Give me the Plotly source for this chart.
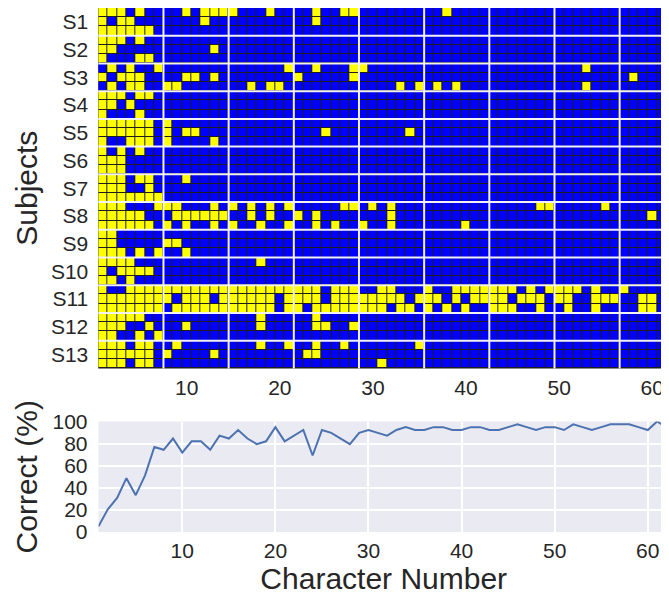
import plotly.graph_objects as go

# ---------------- data ----------------
subjects = ["S1", "S2", "S3", "S4", "S5", "S6", "S7", "S8", "S9", "S10", "S11", "S12", "S13"]
n_chars = 62
char_numbers = list(range(1, n_chars + 1))
x_tick_values = [10, 20, 30, 40, 50, 60]
pct_tick_values = [0, 20, 40, 60, 80, 100]

# character numbers answered wrongly (yellow), three sessions per subject
S1_errors = [[1, 2, 3, 5, 10, 12, 13, 14, 15, 19, 24, 27, 28, 38],
             [1, 3, 4, 12, 24],
             [1, 2, 3, 4, 5, 6]]
S2_errors = [[1, 2, 3, 5], [1, 2, 13], [1, 5, 6]]
S3_errors = [[2, 4, 7, 21, 24, 28, 29, 53],
             [1, 3, 4, 5, 10, 11, 13, 22, 28, 58],
             [2, 4, 5, 8, 9, 17, 19, 20, 33, 35, 37, 39, 53]]
S4_errors = [[1, 2, 3, 5, 6], [1, 2, 4], [1, 5]]
S5_errors = [[1, 2, 3, 4, 5, 6, 8],
             [1, 2, 3, 4, 5, 6, 8, 10, 11, 25, 34],
             [1, 4, 5, 6, 8, 13]]
S6_errors = [[1, 3, 5], [1, 2, 3], [1, 2, 3]]
S7_errors = [[1, 2, 3, 5, 6, 10], [1, 2, 3, 6], [1, 2, 3, 4, 5, 6, 7]]
S8_errors = [[1, 2, 3, 7, 8, 9, 13, 15, 17, 19, 21, 27, 28, 30, 32, 48, 49, 55],
             [1, 2, 3, 4, 5, 9, 10, 11, 12, 13, 14, 17, 19, 22, 24, 32, 60],
             [1, 2, 3, 4, 5, 6, 8, 10, 13, 15, 18, 21, 24, 26, 29, 32, 40]]
S9_errors = [[1, 2], [1, 2, 8, 9], [1, 2, 3, 5, 7, 10]]
S10_errors = [[1, 2, 3, 4, 18], [1, 3, 4, 5, 6], [1, 2, 4]]
S11_errors = [[1, 4, 5, 6, 7, 8, 9, 10, 11, 12, 13, 14, 15, 16, 17, 18, 19, 20, 21, 22, 23, 24,
               26, 27, 28, 31, 32, 36, 39, 40, 41, 42, 43, 44, 45, 47, 49, 50, 51, 52, 54, 57],
              [1, 2, 3, 4, 5, 6, 7, 8, 10, 11, 12, 14, 15, 16, 17, 18, 19, 21, 22, 23, 24, 26,
               27, 28, 29, 30, 31, 32, 33, 35, 36, 37, 39, 41, 42, 43, 44, 46, 47, 48, 50, 51,
               54, 55, 56, 59, 60, 62],
              [1, 2, 3, 4, 5, 6, 7, 9, 10, 11, 12, 13, 14, 15, 16, 17, 18, 19, 21, 22, 24, 25,
               26, 27, 28, 29, 30, 31, 33, 34, 36, 38, 40, 43, 44, 45, 48, 51, 54, 59, 60, 62]]
S12_errors = [[1, 2, 3, 4, 5, 18, 24], [1, 2, 3, 6, 10, 18, 24, 25, 28], [1, 2, 5, 7]]
S13_errors = [[1, 2, 3, 5, 6, 9, 18, 21, 24, 27, 35],
              [1, 2, 3, 4, 5, 6, 8, 13, 23, 24],
              [1, 2, 3, 5, 6, 31]]

percent_correct = [5.1, 20.5, 30.8, 48.7, 33.3, 51.3, 76.9, 74.4, 84.6, 71.8,
                   82.1, 82.1, 74.4, 87.2, 84.6, 92.3, 84.6, 79.5, 82.1, 94.9,
                   82.1, 87.2, 92.3, 69.2, 92.3, 89.7, 84.6, 79.5, 89.7, 92.3,
                   89.7, 87.2, 92.3, 94.9, 92.3, 92.3, 94.9, 94.9, 92.3, 92.3,
                   94.9, 94.9, 92.3, 92.3, 94.9, 97.4, 94.9, 92.3, 94.9, 94.9,
                   92.3, 97.4, 94.9, 92.3, 94.9, 97.4, 97.4, 97.4, 94.9, 92.3,
                   100.0, 94.9]

all_subject_errors = [S1_errors, S2_errors, S3_errors, S4_errors, S5_errors, S6_errors,
                      S7_errors, S8_errors, S9_errors, S10_errors, S11_errors,
                      S12_errors, S13_errors]

# ---------------- build matrix ----------------
z = []
for subj in all_subject_errors:
    for session in subj:
        z.append([1 if c in session else 0 for c in char_numbers])
n_rows = len(z)
sessions = len(S1_errors)
row_index = list(range(1, n_rows + 1))

BLUE = "#0000ff"
YELLOW = "#ffff00"
TEXT = "#262626"
FONT = "Liberation Sans, Arial, sans-serif"
TICK = 21
TITLE = 30

fig = go.Figure()
fig.add_trace(go.Heatmap(
    z=z, x=char_numbers, y=row_index,
    colorscale=[[0, BLUE], [1, YELLOW]], zmin=0, zmax=1,
    showscale=False, xgap=1, ygap=1, hoverinfo="skip",
    xaxis="x", yaxis="y"))

fig.add_trace(go.Scatter(
    x=char_numbers, y=percent_correct, mode="lines",
    line=dict(color="#4C72B0", width=2), xaxis="x2", yaxis="y2",
    hoverinfo="skip", showlegend=False))

# dark cell-border background for the heatmap
shapes = [dict(type="rect", xref="x domain", yref="y domain", x0=0, x1=1, y0=0, y1=1,
               fillcolor="#1e1e1e", line=dict(width=0), layer="below")]
# white separators: every 7 characters and between subjects
for k in range(7, n_chars, 7):
    shapes.append(dict(type="line", xref="x", yref="y domain", x0=k + 0.5, x1=k + 0.5,
                       y0=0, y1=1, line=dict(color="#f2f2f2", width=2), layer="above"))
for k in range(sessions, n_rows, sessions):
    shapes.append(dict(type="line", xref="x domain", yref="y", x0=0, x1=1,
                       y0=k + 0.5, y1=k + 0.5, line=dict(color="#f2f2f2", width=2), layer="above"))

subject_centers = [i * sessions + (sessions + 1) / 2 for i in range(len(subjects))]

# the page body adds an 8px margin, so the figure is 8px smaller than the window
PAGE_OFF = 8
W, H = 669 - PAGE_OFF, 597 - PAGE_OFF


def px_x(v):
    return (v - PAGE_OFF) / W


def px_y(v):
    return 1 - (v - PAGE_OFF) / H


common = dict(zeroline=False, showline=False, ticks="", automargin=False,
              tickfont=dict(size=TICK, color=TEXT))
fig.update_layout(
    width=W, height=H, margin=dict(l=0, r=0, t=0, b=0, autoexpand=False),
    paper_bgcolor="white", plot_bgcolor="#EAEAF2",
    font=dict(family=FONT, color=TEXT, size=TICK),
    showlegend=False, shapes=shapes,
    xaxis=dict(domain=[px_x(98.3), 1], range=[0.5, 61.8], tickvals=x_tick_values,
               showgrid=False, anchor="y", ticklabelstandoff=5, **common),
    yaxis=dict(domain=[px_y(368.4), px_y(8)], range=[n_rows + 0.5, 0.5],
               tickvals=subject_centers, ticktext=subjects, showgrid=False,
               ticklabelstandoff=9,
               title=dict(text="Subjects", font=dict(size=TITLE, color=TEXT), standoff=4),
               anchor="x", **common),
    xaxis2=dict(domain=[px_x(98.5), 1], range=[1, 62.28], tickvals=x_tick_values,
                showgrid=True, gridcolor="white", gridwidth=1.5, ticklabelstandoff=4,
                title=dict(text="Character Number", font=dict(size=TITLE, color=TEXT), standoff=5),
                anchor="y2", **common),
    yaxis2=dict(domain=[px_y(532), px_y(421.5)], range=[0, 100], tickvals=pct_tick_values,
                showgrid=True, gridcolor="white", gridwidth=1.5, ticklabelstandoff=10,
                title=dict(text="Correct (%)", font=dict(size=TITLE, color=TEXT), standoff=5),
                anchor="x2", **common),
)

fig.write_html("out.html")
